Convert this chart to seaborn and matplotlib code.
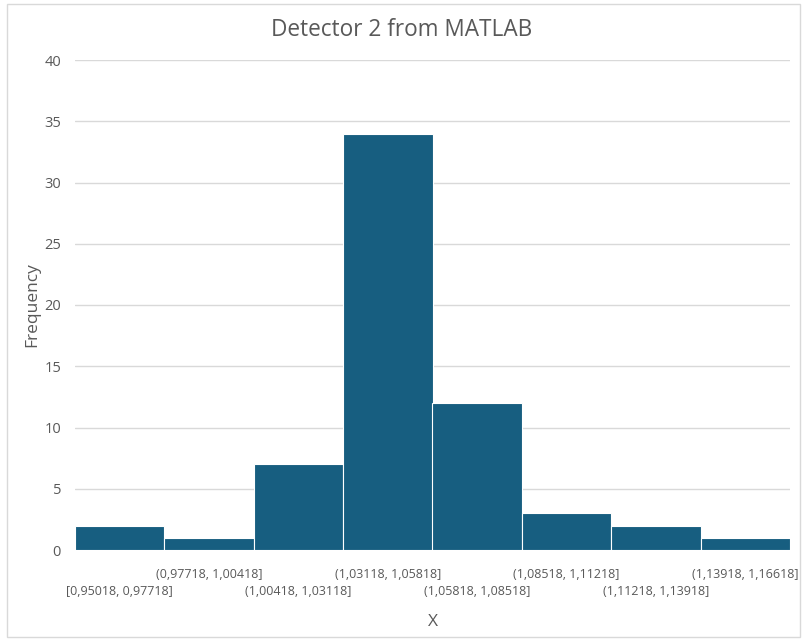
import matplotlib
matplotlib.use("Agg")
import matplotlib.pyplot as plt
import seaborn as sns
import pandas as pd
from matplotlib.patches import Rectangle

bins = ["[0,95018, 0,97718]", "(0,97718, 1,00418]", "(1,00418, 1,03118]",
        "(1,03118, 1,05818]", "(1,05818, 1,08518]", "(1,08518, 1,11218]",
        "(1,11218, 1,13918]", "(1,13918, 1,16618]"]
freq = [2, 1, 7, 34, 12, 3, 2, 1]
yticks = [0, 5, 10, 15, 20, 25, 30, 35, 40]

sns.set_theme(style="white")
plt.rcParams['font.family'] = ['Open Sans', 'DejaVu Sans']

df = pd.DataFrame({"bin": bins, "freq": freq})
fig = plt.figure(figsize=(8.04, 6.41), dpi=100)
ax = fig.add_axes([75/804, 1-550/641, 715/804, 490/641])

sns.barplot(data=df, x="bin", y="freq", color="#175E80", saturation=1,
            width=1.0, edgecolor="white", linewidth=0.8, ax=ax, zorder=3)

ax.set_ylim(0, 40)
ax.set_xlim(-0.5, len(bins) - 0.5)
ax.set_yticks(yticks)
ax.set_yticklabels([str(v) for v in yticks], color="#595959", fontsize=10.5)
ax.yaxis.grid(True, color="#D9D9D9", linewidth=1, zorder=0)
ax.xaxis.grid(False)
for s in ax.spines.values():
    s.set_visible(False)
ax.tick_params(axis="both", which="both", length=0)
ax.tick_params(axis="y", pad=10)

idx = list(range(len(bins)))
even = [i for i in idx if i % 2 == 0]
odd = [i for i in idx if i % 2 == 1]
ax.set_xticks(even)
ax.set_xticklabels([bins[i] for i in even], color="#595959", fontsize=9)
ax.set_xticks(odd, minor=True)
ax.set_xticklabels([bins[i] for i in odd], minor=True, color="#595959", fontsize=9)
ax.tick_params(axis="x", which="major", pad=25)
ax.tick_params(axis="x", which="minor", pad=13)

ax.set_xlabel("X", fontsize=12.5, color="#595959", labelpad=12)
ax.set_ylabel("Frequency", fontsize=12.5, color="#595959", labelpad=3)
fig.suptitle("Detector 2 from MATLAB", fontsize=16.3, color="#595959", y=1-30/641, va="center")

fig.patches.append(Rectangle((7/804, 4/641), 793/804, 633/641, transform=fig.transFigure,
                             fill=False, edgecolor="#D9D9D9", linewidth=1))

fig.savefig("out.png", dpi=100)
